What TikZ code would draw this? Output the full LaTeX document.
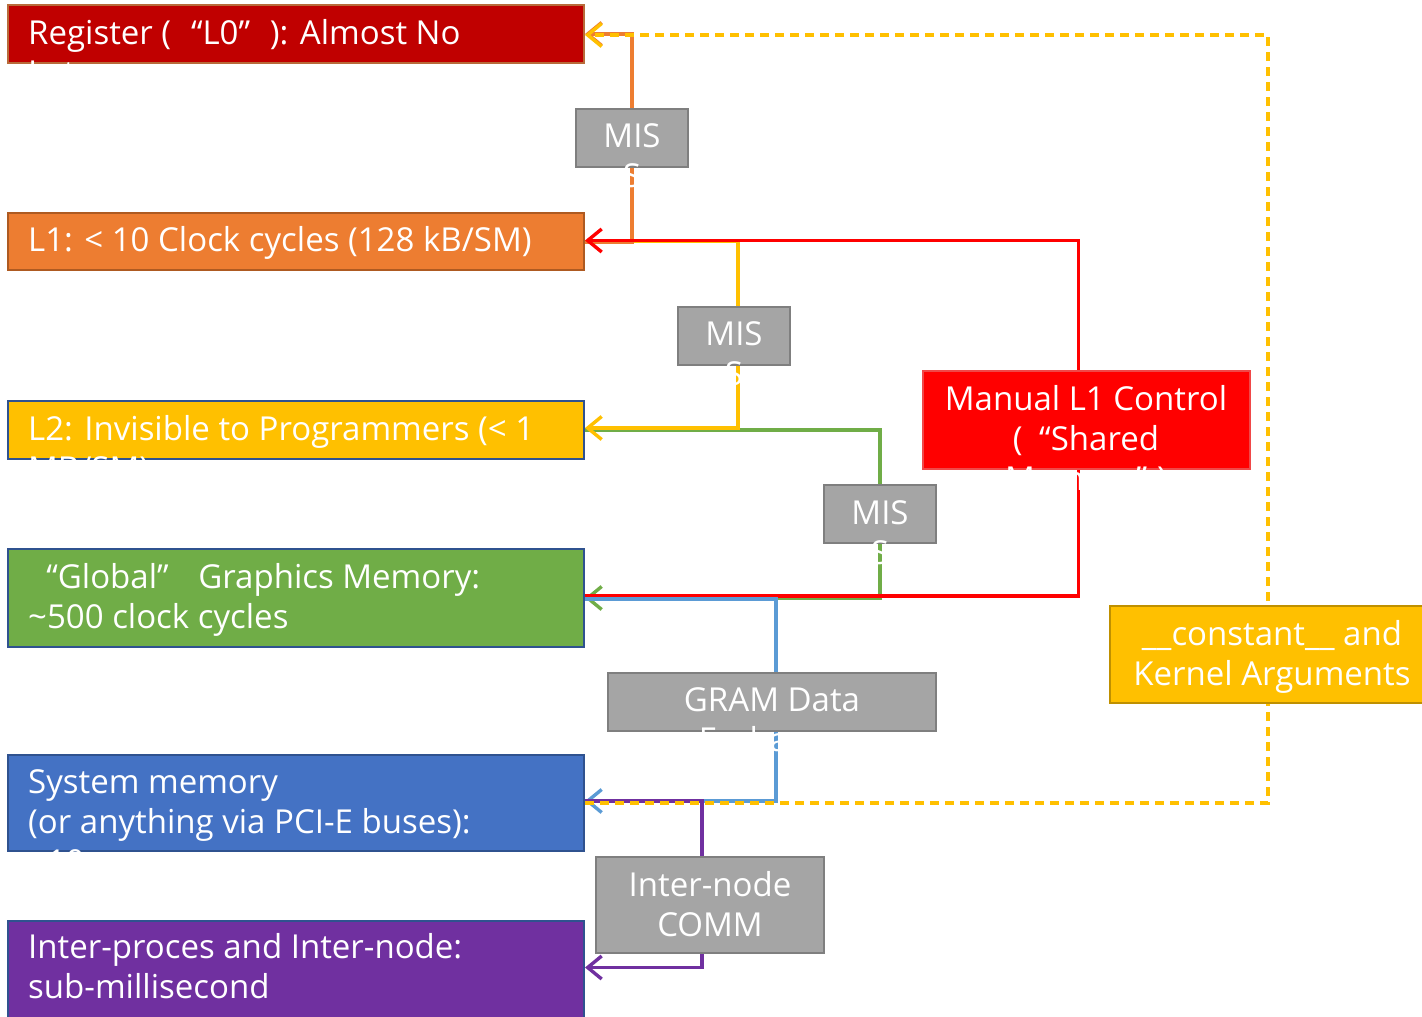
\documentclass[tikz,border=0pt]{standalone}
\usepackage{fontspec}
\setmainfont{Open Sans}
\usetikzlibrary{arrows.meta}

\definecolor{regfill}{HTML}{C00000}
\definecolor{regline}{HTML}{B86B3A}
\definecolor{lonefill}{HTML}{ED7D31}
\definecolor{loneline}{HTML}{AE5A21}
\definecolor{goldfill}{HTML}{FFC000}
\definecolor{goldline}{HTML}{BF9000}
\definecolor{greenfill}{HTML}{70AD47}
\definecolor{bluefill}{HTML}{4472C4}
\definecolor{navyline}{HTML}{2F528F}
\definecolor{purplefill}{HTML}{7030A0}
\definecolor{greyfill}{HTML}{A5A5A5}
\definecolor{greyline}{HTML}{7F7F7F}
\definecolor{redfill}{HTML}{FF0000}
\definecolor{redline}{HTML}{F04848}
\definecolor{skyline}{HTML}{5B9BD5}

\tikzset{
  box/.style={rectangle, line width=2pt, inner sep=0pt},
  missbox/.style={box, fill=greyfill, draw=greyline, minimum width=112pt, minimum height=58pt},
  % multi-line labels are placed by the baseline of their last line
  lbl/.style={text=white, inner sep=0pt, align=left, anchor=base west,
    font=\fontsize{33pt}{40pt}\selectfont},
  clbl/.style={lbl, align=center, anchor=base},
  link/.style={line width=3.4pt},
  tip/.style={-{Straight Barb[length=14pt,width=23pt,line width=3.4pt]}},
}

\begin{document}
\begin{tikzpicture}[x=1pt,y=-1pt]
\useasboundingbox (0,0) rectangle (1422,1017);

% memory levels
\node[box, fill=regfill, draw=regline, minimum width=576pt, minimum height=58pt] (reg) at (296,34) {};
\node[box, fill=lonefill, draw=loneline, minimum width=576pt, minimum height=57pt] (l1) at (296,241.5) {};
\node[box, fill=goldfill, draw=navyline, minimum width=576pt, minimum height=58pt] (l2) at (296,430) {};
\node[box, fill=greenfill, draw=navyline, minimum width=576pt, minimum height=98pt] (glob) at (296,598) {};
\node[box, fill=bluefill, draw=navyline, minimum width=576pt, minimum height=96pt] (sys) at (296,803) {};
\node[box, fill=purplefill, draw=navyline, minimum width=576pt, minimum height=97pt] (ipc) at (296,969.5) {};

% side boxes are placed first so the connectors can refer to them
\path node[missbox] (miss1) at (632,138) {}
      node[missbox] (miss2) at (734,336) {}
      node[missbox] (miss3) at (880,514) {}
      node[box, minimum width=327pt, minimum height=98pt] (man) at (1086.5,420) {}
      node[box, minimum width=328pt, minimum height=58pt] (gram) at (772,702) {}
      node[box, minimum width=228pt, minimum height=96pt] (inode) at (710,905) {}
      node[box, minimum width=316pt, minimum height=97pt] (const) at (1268,654.5) {};

% connectors
\draw[link, greenfill, tip] (l2.east) -| (miss3.center) |- (glob.east);
\draw[link, goldfill, tip] (l1.east) -| ([xshift=4pt]miss2.center) |- ([yshift=2pt]l2.east);
\draw[link, lonefill, tip] ([yshift=-1pt]l1.east) -| (miss1.center) |- (reg.east);
\draw[link, redfill, tip] ([xshift=-8pt]man.north) |- ([yshift=1pt]l1.east);
\draw[link, redfill] ([xshift=-8pt]man.south) |- ([yshift=2pt]glob.east);
\draw[link, skyline, tip] ([yshift=-1pt]glob.east) -| ([xshift=4pt]gram.center) |- ([yshift=2pt]sys.east);
\draw[link, purplefill, tip] ([yshift=2pt]sys.east) -| ([xshift=-8pt]inode.center) |- ([yshift=2pt]ipc.east);
\draw[link, goldfill, dash pattern=on 9pt off 6pt, tip] (sys.east) -| (const.center) |- ([yshift=-1pt]reg.east);

% side boxes painted over the connectors
\node[missbox] (miss1b) at (miss1) {};
\node[missbox] (miss2b) at (miss2) {};
\node[missbox] (miss3b) at (miss3) {};
\node[box, fill=redfill, draw=redline, minimum width=327pt, minimum height=98pt] (manb) at (man) {};
\node[box, fill=greyfill, draw=greyline, minimum width=328pt, minimum height=58pt] (gramb) at (gram) {};
\node[box, fill=greyfill, draw=greyline, minimum width=228pt, minimum height=96pt] (inodeb) at (inode) {};
\node[box, fill=goldfill, draw=goldline, minimum width=316pt, minimum height=97pt] (constb) at (const) {};

% labels, set on top of everything
\node[lbl] (tReg) at (28,84) {Register (\hspace{.6em}“L0”\hspace{.6em}): Almost No\\Latency};
\node[lbl] (tL1) at (28,251) {L1: < 10 Clock cycles (128 kB/SM)};
\node[lbl] (tL2) at (28,480) {L2: Invisible to Programmers (< 1\\MB/SM)};
\node[lbl] (tGlob) at (28,628) {\hspace{.55em}“Global”\hspace{.9em}Graphics Memory:\\\textasciitilde500 clock cycles};
\node[lbl] (tSys) at (28,873) {System memory\\(or anything via PCI-E buses):\\\textasciitilde10 µs};
\node[lbl] (tIpc) at (28,998) {Inter-proces and Inter-node:\\sub-millisecond};
\node[clbl] (tMiss1) at (632,187) {MIS\\S};
\node[clbl] (tMiss2) at (734,385) {MIS\\S};
\node[clbl] (tMiss3) at (880,564) {MIS\\S};
\node[clbl] (tMan) at (1086,490) {Manual L1 Control\\(\hspace{.5em}“Shared\\Memory”\hspace{.3em})};
\node[clbl] (tGram) at (772,751) {GRAM Data\\Exchange};
\node[clbl] (tInode) at (710,936) {Inter-node\\COMM};
\node[clbl] (tConst) at (1272,685) {\_\_constant\_\_ and\\Kernel Arguments};
\end{tikzpicture}
\end{document}
